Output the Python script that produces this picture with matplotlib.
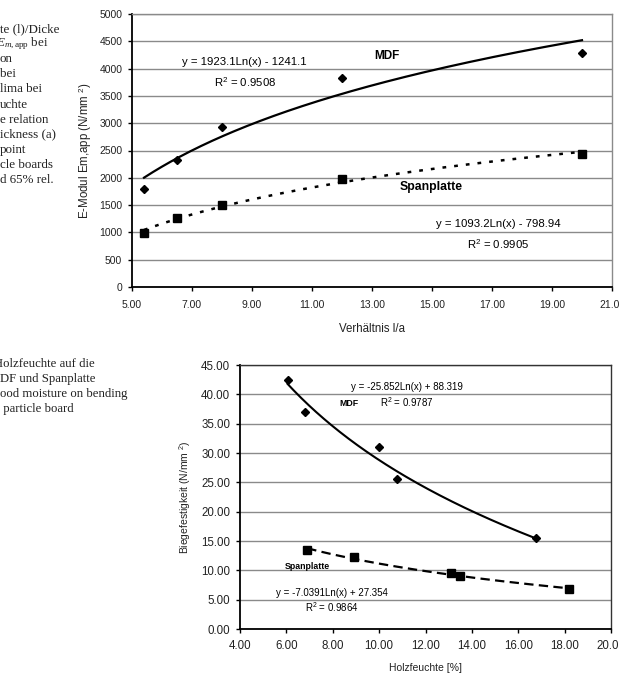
import numpy as np
import matplotlib
matplotlib.use("Agg")
import matplotlib.pyplot as plt

plt.rcParams['font.family'] = ['Liberation Sans', 'DejaVu Sans']
plt.rcParams['mathtext.fontset'] = 'custom'
plt.rcParams['mathtext.rm'] = 'Liberation Serif'
plt.rcParams['mathtext.it'] = 'Liberation Serif:italic'
plt.rcParams['mathtext.sf'] = 'Liberation Sans'

# ---- data: top chart (E-Modul vs Verhältnis l/a)
ratio = [5.4, 6.5, 8.0, 12.0, 20.0]
emod_mdf = [1790, 2330, 2930, 3830, 4290]
emod_span = [980, 1260, 1500, 1980, 2430]
fit_mdf_top = [1923.1, -1241.1]
fit_span_top = [1093.2, -798.94]
top_xticks = [5, 7, 9, 11, 13, 15, 17, 19, 21]
top_yticks = [0, 500, 1000, 1500, 2000, 2500, 3000, 3500, 4000, 4500, 5000]

# ---- data: bottom chart (Biegefestigkeit vs Holzfeuchte)
mc_mdf = [6.05, 6.8, 10.0, 10.75, 16.75]
mor_mdf = [42.5, 37.0, 31.0, 25.5, 15.5]
mc_span = [6.9, 8.9, 13.1, 13.5, 18.2]
mor_span = [13.4, 12.3, 9.6, 9.0, 6.8]
fit_mdf_bot = [-25.852, 88.319]
fit_span_bot = [-7.0391, 27.354]
bot_xticks = [4, 6, 8, 10, 12, 14, 16, 18, 20]
bot_yticks = [0, 5, 10, 15, 20, 25, 30, 35, 40, 45]

top_caption = ["te (l)/Dicke", None, "on", "bei", "lima bei", "uchte",
               "e relation", "ickness (a)", "point", "cle boards", "d 65% rel."]
bot_caption = ["Holzfeuchte auf die", "DF und Spanplatte",
               "ood moisture on bending", " particle board"]

W, H = 619, 688
fig = plt.figure(figsize=(W / 100, H / 100), dpi=100)

def px(x, y):
    return x / W, 1 - y / H

def style_axes(ax, border_color, xpad):
    for s in ['top', 'right']:
        ax.spines[s].set_color(border_color)
        ax.spines[s].set_linewidth(1.0)
    for s in ['left', 'bottom']:
        ax.spines[s].set_color('black')
        ax.spines[s].set_linewidth(1.3)
    ax.tick_params(direction='out', length=3, width=1, color='black')
    ax.tick_params(axis='x', pad=xpad)
    ax.tick_params(axis='y', pad=4)
    ax.yaxis.grid(True, color='#8a8a8a', linewidth=1.0)
    ax.set_axisbelow(True)

# ================= top chart
ax1 = fig.add_axes([132 / W, 1 - 287 / H, (612 - 132) / W, (287 - 14) / H])
style_axes(ax1, '#8a8a8a', 6)
xs = np.linspace(min(ratio), max(ratio), 200)
ax1.plot(xs, fit_mdf_top[0] * np.log(xs) + fit_mdf_top[1], color='black', lw=1.6)
ax1.plot(xs, fit_span_top[0] * np.log(xs) + fit_span_top[1], color='black', lw=1.8,
         linestyle=(0, (1.5, 3.2)))
ax1.plot(ratio, emod_mdf, 'D', color='black', markersize=4.5, linestyle='none')
ax1.plot(ratio, emod_span, 's', color='black', markersize=6, linestyle='none')
ax1.set_xlim(5, 21)
ax1.set_ylim(0, 5000)
ax1.set_xticks(top_xticks)
ax1.set_xticklabels([f"{v:.2f}" for v in top_xticks], fontsize=7.5, color='#222222')
ax1.set_yticks(top_yticks)
ax1.set_yticklabels([str(v) for v in top_yticks], fontsize=7.5, color='#222222')
ax1.set_xlabel("Verhältnis l/a", fontsize=8.3, color='#222222', labelpad=10)
ax1.set_ylabel(r"E-Modul Em,app (N/mm $^{\mathsf{2}}$)", fontsize=8.3, color='#222222', labelpad=4)
ax1.text(8.73, 4121, "y = 1923.1Ln(x) - 1241.1", fontsize=8.2, ha='center', va='center')
ax1.text(8.77, 3755, r"R$^{\mathsf{2}}$ = 0.9508", fontsize=8.2, ha='center', va='center')
ax1.text(13.5, 4231, "MDF", fontsize=8.5, fontweight='bold', ha='center', va='center')
ax1.text(14.97, 1832, "Spanplatte", fontsize=8.8, fontweight='bold', ha='center', va='center')
ax1.text(17.2, 1154, "y = 1093.2Ln(x) - 798.94", fontsize=8.2, ha='center', va='center')
ax1.text(17.2, 788, r"R$^{\mathsf{2}}$ = 0.9905", fontsize=8.2, ha='center', va='center')

# ================= bottom chart
ax2 = fig.add_axes([240 / W, 1 - 629 / H, (611 - 240) / W, (629 - 365) / H])
style_axes(ax2, '#333333', 5)
xs = np.linspace(min(mc_mdf), max(mc_mdf), 200)
ax2.plot(xs, fit_mdf_bot[0] * np.log(xs) + fit_mdf_bot[1], color='black', lw=1.5)
xs = np.linspace(min(mc_span), max(mc_span), 200)
ax2.plot(xs, fit_span_bot[0] * np.log(xs) + fit_span_bot[1], color='black', lw=1.6,
         linestyle=(0, (4.2, 2.4)))
ax2.plot(mc_mdf, mor_mdf, 'D', color='black', markersize=4, linestyle='none')
ax2.plot(mc_span, mor_span, 's', color='black', markersize=5.5, linestyle='none')
ax2.set_xlim(4, 20)
ax2.set_ylim(0, 45)
ax2.set_xticks(bot_xticks)
ax2.set_xticklabels([f"{v:.2f}" for v in bot_xticks], fontsize=8.3, color='#222222')
ax2.set_yticks(bot_yticks)
ax2.set_yticklabels([f"{v:.2f}" for v in bot_yticks], fontsize=8.3, color='#222222')
ax2.set_xlabel("Holzfeuchte [%]", fontsize=7.5, color='#222222', labelpad=8)
ax2.set_ylabel(r"Biegefestigkeit (N/mm $^{\mathsf{2}}$)", fontsize=7.5, color='#222222', labelpad=6)
ax2.text(11.2, 41.25, "y = -25.852Ln(x) + 88.319", fontsize=7, ha='center', va='center')
ax2.text(11.2, 38.7, r"R$^{\mathsf{2}}$ = 0.9787", fontsize=7, ha='center', va='center')
ax2.text(8.7, 38.5, "MDF", fontsize=6.3, fontweight='bold', ha='center', va='center')
ax2.text(6.9, 10.6, "Spanplatte", fontsize=6.3, fontweight='bold', ha='center', va='center')
ax2.text(7.95, 6.1, "y = -7.0391Ln(x) + 27.354", fontsize=7, ha='center', va='center')
ax2.text(7.96, 3.6, r"R$^{\mathsf{2}}$ = 0.9864", fontsize=7, ha='center', va='center')

# ================= caption fragments (serif)
for i, line in enumerate(top_caption):
    y = 29 + i * 15.1
    if line is None:
        fig.text(*px(-4, y), r"$E_{m,\mathrm{app}}$ bei", fontsize=9.4,
                 family='Liberation Serif', ha='left', va='center', color='#222222')
    else:
        fig.text(*px(0, y), line, fontsize=9.4, family='Liberation Serif',
                 ha='left', va='center', color='#222222')
bx = [-6, 0, 0, 0]
for i, line in enumerate(bot_caption):
    y = 364 + i * 15
    fig.text(*px(bx[i], y), line, fontsize=9.2, family='Liberation Serif',
             ha='left', va='center', color='#222222')

fig.savefig("out.png", dpi=100)
